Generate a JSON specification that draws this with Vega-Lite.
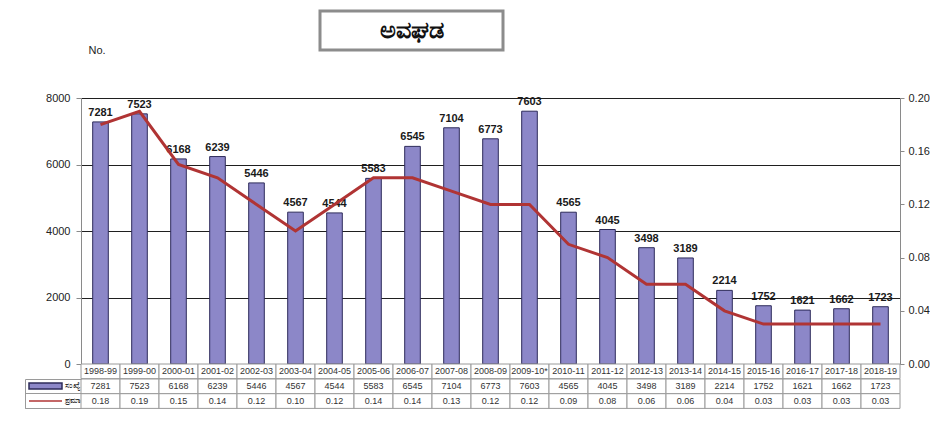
{
  "$schema": "https://vega.github.io/schema/vega-lite/v6.json",
  "padding": {"left": 24, "top": 9, "right": 0, "bottom": 0},
  "background": "white",
  "bounds": "flush",
  "spacing": 87,
  "config": {"view": {"stroke": null}, "font": "Liberation Sans"},
  "datasets": {
    "d": [
      {"year": "1998-99", "count": 7281, "rate": 0.18},
      {"year": "1999-00", "count": 7523, "rate": 0.19},
      {"year": "2000-01", "count": 6168, "rate": 0.15},
      {"year": "2001-02", "count": 6239, "rate": 0.14},
      {"year": "2002-03", "count": 5446, "rate": 0.12},
      {"year": "2003-04", "count": 4567, "rate": 0.10},
      {"year": "2004-05", "count": 4544, "rate": 0.12},
      {"year": "2005-06", "count": 5583, "rate": 0.14},
      {"year": "2006-07", "count": 6545, "rate": 0.14},
      {"year": "2007-08", "count": 7104, "rate": 0.13},
      {"year": "2008-09", "count": 6773, "rate": 0.12},
      {"year": "2009-10*", "count": 7603, "rate": 0.12},
      {"year": "2010-11", "count": 4565, "rate": 0.09},
      {"year": "2011-12", "count": 4045, "rate": 0.08},
      {"year": "2012-13", "count": 3498, "rate": 0.06},
      {"year": "2013-14", "count": 3189, "rate": 0.06},
      {"year": "2014-15", "count": 2214, "rate": 0.04},
      {"year": "2015-16", "count": 1752, "rate": 0.03},
      {"year": "2016-17", "count": 1621, "rate": 0.03},
      {"year": "2017-18", "count": 1662, "rate": 0.03},
      {"year": "2018-19", "count": 1723, "rate": 0.03}
    ],
    "t": [{"title": "ಅವಘಡ"}]
  },
  "vconcat": [
    {
      "bounds": "flush",
      "spacing": 0,
      "hconcat": [
        {"width": 239, "height": 39, "data": {"values": []}, "mark": "text", "encoding": {}},
        {
          "width": 183, "height": 39,
          "view": {"stroke": "#8c8c8c", "strokeWidth": 3, "fill": "white"},
          "data": {"name": "t"},
          "mark": {"type": "text", "fontSize": 24, "fontWeight": "bold", "color": "#111111"},
          "encoding": {"text": {"field": "title", "type": "nominal"}}
        }
      ]
    },
    {
      "bounds": "flush",
      "spacing": 0,
      "resolve": {
        "scale": {"fill": "independent", "stroke": "independent", "shape": "independent"},
        "legend": {"fill": "independent", "stroke": "independent", "shape": "independent"}
      },
      "vconcat": [
        {
          "width": 819, "height": 266,
          "data": {"name": "d"},
          "encoding": {
            "x": {"field": "year", "type": "ordinal", "sort": null, "axis": null,
                  "scale": {"paddingInner": 0.6, "paddingOuter": 0.3}}
          },
          "layer": [
            {
              "mark": {"type": "bar", "fill": "#8c87c8", "stroke": "#2d2b5a", "strokeWidth": 1},
              "encoding": {
                "y": {"field": "count", "type": "quantitative",
                      "scale": {"domain": [0, 8000], "nice": false},
                      "axis": {"orient": "left", "values": [0, 2000, 4000, 6000, 8000], "format": "d",
                               "grid": true, "gridColor": "#1f1f1f", "gridWidth": 1,
                               "domainColor": "#8a8a8a", "tickColor": "#8a8a8a", "tickSize": 5,
                               "labelFontSize": 11, "labelColor": "#222222", "labelPadding": 6,
                               "title": "No.", "titleAngle": 0, "titleAlign": "left",
                               "titleBaseline": "middle", "titleX": 7, "titleY": -48,
                               "titleFontSize": 11, "titleFontWeight": "normal", "titleColor": "#222222"}}
              }
            },
            {
              "mark": {"type": "text", "fontWeight": "bold", "fontSize": 11, "baseline": "bottom", "dy": -4, "color": "#1a1a1a"},
              "encoding": {
                "y": {"field": "count", "type": "quantitative", "scale": {"domain": [0, 8000], "nice": false}, "axis": null},
                "text": {"field": "count", "type": "quantitative", "format": "d"}
              }
            },
            {
              "mark": {"type": "line", "strokeWidth": 3, "stroke": "#b03434"},
              "encoding": {
                "y": {"field": "rate", "type": "quantitative",
                      "scale": {"domain": [0, 0.2], "nice": false},
                      "axis": {"orient": "right", "values": [0, 0.04, 0.08, 0.12, 0.16, 0.2],
                               "format": ".2f", "grid": false, "domainColor": "#8a8a8a",
                               "tickColor": "#8a8a8a", "tickSize": 4, "labelFontSize": 11,
                               "labelColor": "#222222", "labelPadding": 4, "title": null}}
              }
            },
            {
              "transform": [{"filter": "datum.count < 0"}],
              "mark": {"type": "point", "filled": true, "strokeWidth": 1, "opacity": 1},
              "encoding": {
                "fill": {"datum": "ಸಂಖ್ಯೆ", "type": "nominal",
                         "scale": {"domain": ["ಸಂಖ್ಯೆ", "ಪ್ರಮಾಣ"], "range": ["#8c87c8", "transparent"]},
                         "legend": {"orient": "none", "legendX": -56, "legendY": 280.7,
                                    "direction": "vertical", "title": null, "padding": 0,
                                    "rowPadding": 0, "clipHeight": 14.7, "symbolSize": 1089, "symbolOffset": 3,
                                    "labelFontSize": 8, "labelOffset": 2, "labelColor": "#333333"}},
                "stroke": {"datum": "ಸಂಖ್ಯೆ", "type": "nominal",
                           "scale": {"domain": ["ಸಂಖ್ಯೆ", "ಪ್ರಮಾಣ"], "range": ["#2d2b5a", "#b03434"]},
                           "legend": {"orient": "none", "legendX": -56, "legendY": 280.7,
                                      "direction": "vertical", "title": null, "padding": 0,
                                      "rowPadding": 0, "clipHeight": 14.7, "symbolSize": 1089, "symbolOffset": 3,
                                      "labelFontSize": 8, "labelOffset": 2, "labelColor": "#333333"}},
                "shape": {"datum": "ಸಂಖ್ಯೆ", "type": "nominal",
                          "scale": {"domain": ["ಸಂಖ್ಯೆ", "ಪ್ರಮಾಣ"], "range": ["M-1,-0.18H1V0.18H-1Z", "M-1,0H1"]},
                          "legend": {"orient": "none", "legendX": -56, "legendY": 280.7,
                                     "direction": "vertical", "title": null, "padding": 0,
                                     "rowPadding": 0, "clipHeight": 14.7, "symbolSize": 1089, "symbolOffset": 3,
                                     "labelFontSize": 8, "labelOffset": 2, "labelColor": "#333333"}}
              }
            }
          ],
          "resolve": {"scale": {"y": "independent"}}
        },
        {
          "width": 819, "height": 14.7,
          "data": {"name": "d"},
          "encoding": {
            "x": {"field": "year", "type": "ordinal", "sort": null, "axis": null,
                  "scale": {"paddingInner": 0, "paddingOuter": 0}}
          },
          "layer": [
            {"mark": {"type": "rect", "fill": "white", "stroke": "#9a9a9a", "strokeWidth": 1}},
            {
              "mark": {"type": "text", "fontSize": 9, "color": "#333333"},
              "encoding": {"text": {"field": "year", "type": "nominal"}}
            }
          ]
        },
        {
          "width": 819, "height": 29.4,
          "data": {"name": "d"},
          "encoding": {
            "x": {"field": "year", "type": "ordinal", "sort": null, "axis": null,
                  "scale": {"paddingInner": 0, "paddingOuter": 0}}
          },
          "layer": [
            {
              "mark": {"type": "rect", "fill": "white", "stroke": "#9a9a9a", "strokeWidth": 1},
              "encoding": {"y": {"datum": "c", "type": "nominal",
                                 "scale": {"domain": ["c", "r"], "paddingInner": 0, "paddingOuter": 0},
                                 "axis": {"orient": "left", "offset": 56, "bandPosition": 1, "tickExtra": true,
                                          "labels": false, "tickSize": -56, "tickColor": "#9a9a9a",
                                          "domainColor": "#9a9a9a", "title": null}}}
            },
            {
              "mark": {"type": "rect", "fill": "white", "stroke": "#9a9a9a", "strokeWidth": 1},
              "encoding": {"y": {"datum": "r", "type": "nominal"}}
            },
            {
              "mark": {"type": "text", "fontSize": 9, "color": "#333333"},
              "encoding": {"y": {"datum": "c", "type": "nominal"}, "text": {"field": "count", "type": "quantitative", "format": "d"}}
            },
            {
              "mark": {"type": "text", "fontSize": 9, "color": "#333333"},
              "encoding": {"y": {"datum": "r", "type": "nominal"}, "text": {"field": "rate", "type": "quantitative", "format": ".2f"}}
            }
          ]
        }
      ]
    }
  ]
}
